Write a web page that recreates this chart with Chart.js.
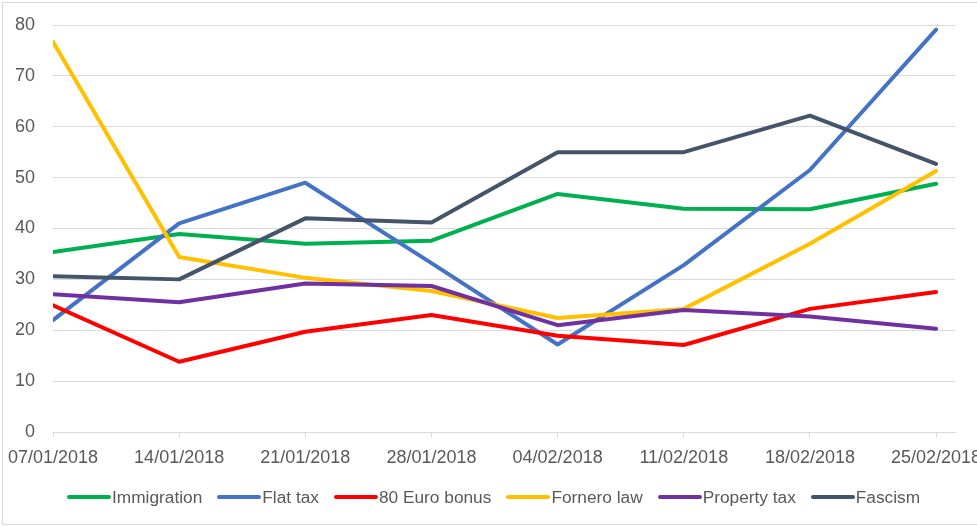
<!DOCTYPE html>
<html>
<head>
<meta charset="utf-8">
<script src="https://cdn.jsdelivr.net/npm/chart.js@4/dist/chart.umd.min.js"></script>
<style>
  html, body { margin: 0; padding: 0; background: #fff; overflow: hidden; }
  #wrap { position: relative; width: 977px; height: 527px; }
  #frame { position: absolute; left: 2px; top: 2px; width: 1000px; height: 521px; border: 1px solid #d9d9d9; }
  canvas { position: absolute; left: 0; top: 0; }
  #legend { position: absolute; left: 67px; top: 485px; height: 24px; display: flex; align-items: center;
            font-family: 'Liberation Sans', Arial, sans-serif; font-size: 17.3px; color: #595959; white-space: nowrap; }
  .item { display: flex; align-items: center; margin-right: 15px; }
  .swatch { width: 44px; height: 4px; border-radius: 2px; margin-right: 1px; }
</style>
</head>
<body>
<div id="wrap">
  <div id="frame"></div>
  <canvas id="chart" width="977" height="527"></canvas>
  <div id="legend"></div>
</div>
<script>
// Weekly dates on the x axis
const dates = ['07/01/2018', '14/01/2018', '21/01/2018', '28/01/2018',
               '04/02/2018', '11/02/2018', '18/02/2018', '25/02/2018'];

// Series values
const immigration = [35.4, 38.9, 37.0, 37.6, 46.8, 43.9, 43.8, 48.8];
const flatTax     = [22.0, 41.0, 49.0, 33.2, 17.2, 32.8, 51.5, 79.1];
const euroBonus   = [24.9, 13.8, 19.7, 23.0, 18.9, 17.1, 24.2, 27.5];
const forneroLaw  = [76.7, 34.4, 30.3, 27.7, 22.4, 24.2, 37.0, 51.3];
const propertyTax = [27.1, 25.5, 29.2, 28.7, 21.0, 24.0, 22.7, 20.3];
const fascism     = [30.6, 30.0, 42.0, 41.2, 55.0, 55.0, 62.2, 52.7];

const yTicks = [0, 10, 20, 30, 40, 50, 60, 70, 80];

const SERIES = [
    {label: 'Immigration',   data: immigration, color: '#00B050'},
    {label: 'Flat tax',      data: flatTax,     color: '#4472C4'},
    {label: '80 Euro bonus', data: euroBonus,   color: '#FF0000'},
    {label: 'Fornero law',   data: forneroLaw,  color: '#FFC000'},
    {label: 'Property tax',  data: propertyTax, color: '#7030A0'},
    {label: 'Fascism',       data: fascism,     color: '#44546A'},
];

Chart.defaults.font.family = "'Liberation Sans', Arial, sans-serif";
Chart.defaults.font.size = 18;
Chart.defaults.color = '#595959';

const datasets = SERIES.map((s, idx) => ({
    label: s.label,
    data: s.data.map((v, i) => ({x: i, y: v})),
    borderColor: s.color,
    backgroundColor: s.color,
    borderWidth: 4,
    borderCapStyle: 'round',
    borderJoinStyle: 'round',
    pointRadius: 0,
    tension: 0,
    fill: false,
    // later series on top, like the original
    order: SERIES.length - idx,
}));

new Chart(document.getElementById('chart'), {
    type: 'line',
    data: {datasets},
    options: {
        responsive: false,
        animation: false,
        events: [],
        layout: {padding: {top: 25, right: 22, bottom: 0, left: 0}},
        plugins: {legend: {display: false}, tooltip: {enabled: false}},
        scales: {
            x: {
                type: 'linear',
                min: 0,
                max: 7.15,
                afterBuildTicks(scale) {
                    scale.ticks = dates.map((_, i) => ({value: i}));
                },
                afterFit(scale) {
                    scale.height = 95;
                    scale.paddingLeft = 0;
                    scale.paddingRight = 0;
                },
                ticks: {
                    autoSkip: false,
                    maxRotation: 0,
                    minRotation: 0,
                    padding: 10,
                    callback: (v) => dates[v],
                },
                grid: {drawOnChartArea: false, drawTicks: true, tickLength: 5, color: '#d9d9d9', lineWidth: 1},
                border: {display: true, color: '#d9d9d9', width: 1},
            },
            y: {
                min: 0,
                max: 80,
                afterBuildTicks(scale) {
                    scale.ticks = yTicks.map(v => ({value: v}));
                },
                afterFit(scale) {
                    scale.width = 53;
                    scale.paddingTop = 0;
                    scale.paddingBottom = 0;
                },
                ticks: {padding: 18},
                grid: {color: '#d9d9d9', lineWidth: 1, drawTicks: false},
                border: {display: false},
            },
        },
    },
});

// Legend, laid out like the original (line sample touching the text)
const legend = document.getElementById('legend');
SERIES.forEach(s => {
    const item = document.createElement('div');
    item.className = 'item';
    const sw = document.createElement('span');
    sw.className = 'swatch';
    sw.style.background = s.color;
    const txt = document.createElement('span');
    txt.textContent = s.label;
    item.appendChild(sw);
    item.appendChild(txt);
    legend.appendChild(item);
});
</script>
</body>
</html>
